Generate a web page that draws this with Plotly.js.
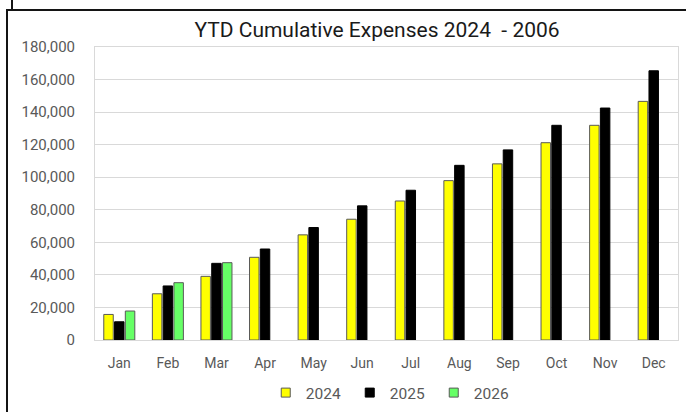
<!DOCTYPE html>
<html>
<head>
<meta charset="utf-8">
<script src="https://cdn.plot.ly/plotly-3.0.1.min.js"></script>
<style>
  html, body { margin: 0; padding: 0; background: #fff; }
  #wrap { position: relative; width: 686px; height: 412px; overflow: hidden; }
  #chart { position: absolute; left: 0; top: 0; width: 686px; height: 412px; }
  .bd { position: absolute; background: #141414; pointer-events: none; }
</style>
</head>
<body>
<div id="wrap">
  <div id="chart"></div>
  <div class="bd" style="left:11px; top:0; width:2px; height:9px;"></div>
  <div class="bd" style="left:6px; top:9px; width:680px; height:2px;"></div>
  <div class="bd" style="left:6px; top:9px; width:2px; height:403px;"></div>
</div>
<script>
const months = ["Jan","Feb","Mar","Apr","May","Jun","Jul","Aug","Sep","Oct","Nov","Dec"];
const y2024 = [15700, 28400, 39100, 50800, 64600, 74200, 85400, 97900, 108200, 121200, 131900, 146600];
const y2025 = [11200, 33200, 47100, 55900, 69100, 82400, 92000, 107300, 116800, 131900, 142500, 165400];
const y2026 = [17800, 35200, 47500];
const seriesNames = ["2024", "2025", "2026"];
const seriesColors = ["#FFFF00", "#000000", "#66FF66"];
const outlineColors = ["#595959", "#000000", "#595959"];
const yTicks = [0, 20000, 40000, 60000, 80000, 100000, 120000, 140000, 160000, 180000];

const font = "Roboto, 'Liberation Sans', sans-serif";
const values = [y2024, y2025, y2026];

const traces = values.map((v, i) => ({
  type: "bar",
  name: seriesNames[i],
  x: months.slice(0, v.length),
  y: v,
  marker: { color: seriesColors[i], line: { color: outlineColors[i], width: 1 } },
  showlegend: false,
  hoverinfo: "x+y+name"
}));
// legend entries (small square swatches)
seriesNames.forEach((n, i) => {
  traces.push({
    type: "scatter", mode: "markers", name: n,
    x: [null], y: [null],
    marker: { symbol: "square", size: 9, color: seriesColors[i], line: { color: outlineColors[i], width: 1 } },
    showlegend: true, hoverinfo: "skip"
  });
});

const layout = {
  width: 686, height: 412,
  margin: { l: 95, r: 8, t: 47, b: 72, pad: 0, autoexpand: false },
  paper_bgcolor: "rgba(0,0,0,0)",
  plot_bgcolor: "#ffffff",
  font: { family: font, size: 13, color: "#595959" },
  title: {
    text: "YTD Cumulative Expenses 2024  - 2006",
    font: { family: font, size: 21, color: "#1a1a1a" },
    x: 377 / 686, xanchor: "center", xref: "container",
    y: 1 - 30 / 412, yanchor: "middle", yref: "container"
  },
  barmode: "group",
  bargap: 0.335,
  bargroupgap: 0.12,
  xaxis: {
    categoryorder: "array", categoryarray: months,
    range: [-0.5, 11.5],
    showline: true, linecolor: "#d9d9d9", linewidth: 1, mirror: true,
    showgrid: false, ticks: "",
    tickfont: { family: font, size: 14, color: "#595959" },
    ticklabelstandoff: 10
  },
  yaxis: {
    range: [0, 180000],
    tickvals: yTicks,
    tickformat: ",d",
    showline: true, linecolor: "#d9d9d9", linewidth: 1, mirror: true,
    showgrid: true, gridcolor: "#d9d9d9", gridwidth: 1,
    zeroline: false, ticks: "",
    tickfont: { family: font, size: 15, color: "#595959" },
    ticklabelstandoff: 16
  },
  legend: {
    orientation: "h",
    x: 0.509, xanchor: "center",
    y: -0.181, yanchor: "middle",
    font: { family: font, size: 15.5, color: "#595959" },
    bgcolor: "rgba(0,0,0,0)",
    itemwidth: 30,
    entrywidth: 39
  },
  showlegend: true
};

Plotly.newPlot("chart", traces, layout, { displayModeBar: false, staticPlot: true });
</script>
</body>
</html>
